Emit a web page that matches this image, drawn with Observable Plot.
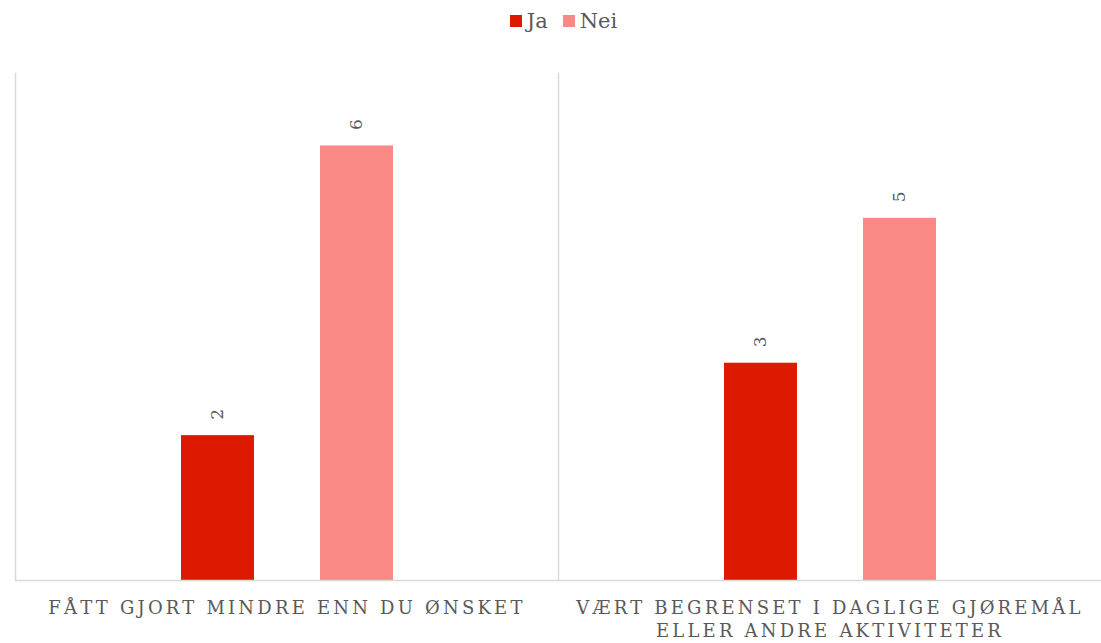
<!DOCTYPE html>
<html>
<head>
<meta charset="utf-8">
<script src="https://cdn.jsdelivr.net/npm/d3@7"></script>
<script src="https://cdn.jsdelivr.net/npm/@observablehq/plot@0.6"></script>
<style>
  html, body { margin: 0; padding: 0; background: #fff; }
  #legend { height: 42px; display: flex; justify-content: center; align-items: center; gap: 15px;
    font-family: "DejaVu Serif", serif; font-size: 21px; color: #595959; box-sizing: border-box; padding-left: 26px; }
  #legend span.item { display: flex; align-items: center; gap: 5px; }
  #legend span.sw { width: 12px; height: 12px; display: inline-block; }
  #chart svg { display: block; }
</style>
</head>
<body>
<div id="legend"></div>
<div id="chart"></div>
<script>
const groups = ["FÅTT GJORT MINDRE ENN DU ØNSKET", "VÆRT BEGRENSET I DAGLIGE GJØREMÅL ELLER ANDRE AKTIVITETER"];
const groupLines = {
  "FÅTT GJORT MINDRE ENN DU ØNSKET": "FÅTT GJORT MINDRE ENN DU ØNSKET",
  "VÆRT BEGRENSET I DAGLIGE GJØREMÅL ELLER ANDRE AKTIVITETER": "VÆRT BEGRENSET I DAGLIGE GJØREMÅL\nELLER ANDRE AKTIVITETER"
};
const series = ["Ja", "Nei"];
const jaValues = [2, 3];
const neiValues = [6, 5];
const colors = ["#DD1A00", "#FA8884"];

const data = [];
groups.forEach((g, i) => {
  data.push({group: g, series: "Ja", value: jaValues[i]});
  data.push({group: g, series: "Nei", value: neiValues[i]});
});

// legend
const legend = document.getElementById("legend");
series.forEach((s, i) => {
  const item = document.createElement("span");
  item.className = "item";
  const sw = document.createElement("span");
  sw.className = "sw";
  sw.style.background = colors[i];
  const t = document.createElement("span");
  t.textContent = s;
  item.appendChild(sw);
  item.appendChild(t);
  legend.appendChild(item);
});

const chart = Plot.plot({
  width: 1101,
  height: 601,
  marginTop: 31,
  marginBottom: 63,
  marginLeft: 14,
  marginRight: 0,
  style: {fontFamily: "DejaVu Serif, serif", background: "#fff"},
  fx: {domain: groups, padding: 0, label: null},
  x: {domain: series, paddingInner: 0.475, paddingOuter: 1.18, axis: null},
  y: {domain: [0, 7], axis: null},
  color: {domain: series, range: colors},
  marks: [
    Plot.frame({anchor: "left", stroke: "#d9d9d9", strokeWidth: 1.5}),
    Plot.barY(data, {fx: "group", x: "series", y: "value", fill: "series"}),
    Plot.ruleY([0], {stroke: "#d9d9d9", strokeWidth: 1.5}),
    Plot.text(data, {fx: "group", x: "series", y: "value", text: d => String(d.value),
      rotate: -90, textAnchor: "start", dy: -16, fill: "#595959", fontSize: 17}),
    Plot.axisFx({anchor: "bottom", tickSize: 0, tickPadding: 16, label: null,
      tickFormat: d => groupLines[d], fontSize: 18, lineHeight: 1.33, fill: "#595959"})
  ]
});
document.getElementById("chart").appendChild(chart);
d3.select(chart).selectAll('g[aria-label="fx-axis tick label"] text').style("letter-spacing", "3.2px");
</script>
</body>
</html>
